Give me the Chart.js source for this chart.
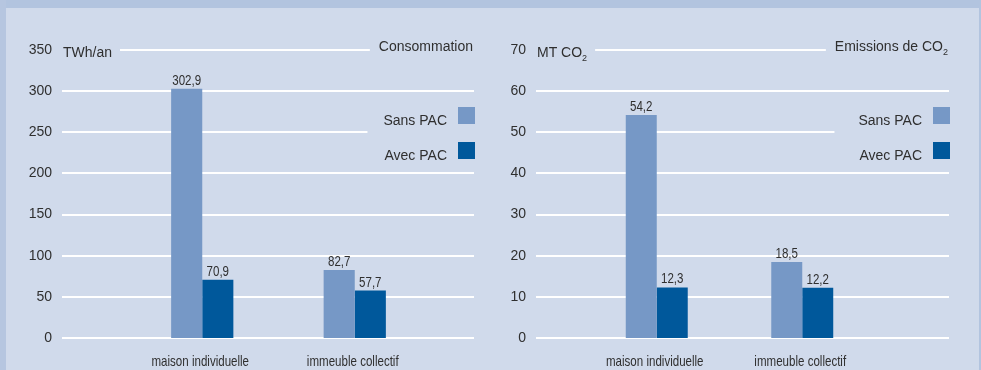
<!DOCTYPE html>
<html lang="fr">
<head>
    <meta charset="UTF-8">
    <title>Consommation et émissions de CO2</title>
    <script src="https://cdn.jsdelivr.net/npm/chart.js"></script>
    <style>
        body {
            margin: 0;
            background: #d0daeb;
        }

        .frame {
            position: relative;
            width: 981px;
            height: 370px;
            background: #d0daeb;
            overflow: hidden;
        }

        .band-top {
            position: absolute;
            left: 0;
            top: 0;
            width: 981px;
            height: 8px;
            background: #b2c4df;
        }

        .band-left {
            position: absolute;
            left: 0;
            top: 0;
            width: 6px;
            height: 370px;
            background: #b6c6e0;
        }

        .band-right {
            position: absolute;
            right: 0;
            top: 0;
            width: 2px;
            height: 370px;
            background: #b2c4df;
        }

        canvas {
            position: absolute;
            top: 0;
        }

        #conso { left: 0; }
        #co2 { left: 490px; }
    </style>
</head>
<body>
    <div class="frame">
        <div class="band-top"></div>
        <div class="band-left"></div>
        <div class="band-right"></div>
        <canvas id="conso" width="490" height="370"></canvas>
        <canvas id="co2" width="491" height="370"></canvas>
    </div>

    <script>
        const categories = ['maison individuelle', 'immeuble collectif'];
        const seriesNames = ['Sans PAC', 'Avec PAC'];
        const consoSans = [302.9, 82.7];
        const consoAvec = [70.9, 57.7];
        const co2Sans = [54.2, 18.5];
        const co2Avec = [12.3, 12.2];
        const consoTicks = [0, 50, 100, 150, 200, 250, 300, 350];
        const co2Ticks = [0, 10, 20, 30, 40, 50, 60, 70];

        const colorSans = '#7698c6';
        const colorAvec = '#00589b';
        const textColor = '#2f2f2f';
        const family = '"Liberation Sans", Arial, sans-serif';
        const narrow = 0.77;

        function fmt(v) {
            return v.toFixed(1).replace('.', ',');
        }

        // condensed text, like the original's narrow face
        function narrowText(ctx, text, x, y, align) {
            ctx.save();
            ctx.translate(x, y);
            ctx.scale(narrow, 1);
            ctx.textAlign = align;
            ctx.fillText(text, 0, 0);
            ctx.restore();
        }

        // text with a small subscript part (CO2)
        function subText(ctx, main, sub, x, y, align) {
            ctx.font = '14px ' + family;
            const w1 = ctx.measureText(main).width;
            ctx.font = '9px ' + family;
            const w2 = sub ? ctx.measureText(sub).width : 0;
            const start = align === 'right' ? x - w1 - w2 : x;
            ctx.textAlign = 'left';
            ctx.font = '14px ' + family;
            ctx.fillText(main, start, y);
            if (sub) {
                ctx.font = '9px ' + family;
                ctx.fillText(sub, start + w1, y + 4);
            }
            return { left: start, right: start + w1 + w2 };
        }

        const decor = {
            id: 'decor',
            beforeDatasetsDraw(chart, args, opts) {
                const ctx = chart.ctx;
                const y = chart.scales.y;
                const ticks = y.ticks.map(t => t.value);
                const top = ticks[ticks.length - 1];
                const legendLine = ticks[ticks.length - 3];

                ctx.save();
                ctx.fillStyle = textColor;
                ctx.textBaseline = 'alphabetic';
                const unit = subText(ctx, opts.unit, opts.unitSub, opts.gridFrom + 1, 57, 'left');
                const title = subText(ctx, opts.title, opts.titleSub, opts.gridTo - 1, 51, 'right');
                ctx.font = '14px ' + family;
                let legendLeft = opts.gridTo;
                seriesNames.forEach(n => {
                    legendLeft = Math.min(legendLeft, opts.gridTo - 28 - ctx.measureText(n).width);
                });

                ctx.strokeStyle = '#ffffff';
                ctx.lineWidth = 2;
                ticks.forEach(v => {
                    const py = Math.round(y.getPixelForValue(v));
                    let x0 = opts.gridFrom;
                    let x1 = opts.gridTo;
                    if (v === top) {
                        x0 = unit.right + 8;
                        x1 = title.left - 9;
                    } else if (v === legendLine) {
                        x1 = legendLeft - opts.legendGap;
                    }
                    ctx.beginPath();
                    ctx.moveTo(x0, py);
                    ctx.lineTo(x1, py);
                    ctx.stroke();
                });
                ctx.restore();
            },
            afterDatasetsDraw(chart, args, opts) {
                const ctx = chart.ctx;
                const x = chart.scales.x;
                ctx.save();
                ctx.fillStyle = textColor;
                ctx.font = '15px ' + family;
                ctx.textBaseline = 'alphabetic';

                // values above bars
                chart.data.datasets.forEach((ds, di) => {
                    chart.getDatasetMeta(di).data.forEach((bar, i) => {
                        narrowText(ctx, fmt(ds.data[i]), bar.x, bar.y - 4, 'center');
                    });
                });

                // category labels
                categories.forEach((c, i) => {
                    narrowText(ctx, c, x.getPixelForValue(i) - 2, 366, 'center');
                });

                // legend: text then square on the right
                ctx.font = '14px ' + family;
                chart.data.datasets.forEach((ds, di) => {
                    const boxTop = 107 + di * 35;
                    const boxRight = opts.gridTo + 1;
                    ctx.fillStyle = ds.backgroundColor;
                    ctx.fillRect(boxRight - 17, boxTop, 17, 17);
                    ctx.fillStyle = textColor;
                    ctx.textAlign = 'right';
                    ctx.fillText(ds.label, boxRight - 28, boxTop + 18);
                });
                ctx.restore();
            }
        };

        function makeChart(id, sans, avec, ticks, cfg) {
            return new Chart(document.getElementById(id), {
                type: 'bar',
                data: {
                    labels: categories,
                    datasets: [
                        {
                            label: seriesNames[0],
                            data: sans,
                            backgroundColor: colorSans,
                            categoryPercentage: cfg.catPct,
                            barPercentage: 1
                        },
                        {
                            label: seriesNames[1],
                            data: avec,
                            backgroundColor: colorAvec,
                            categoryPercentage: cfg.catPct,
                            barPercentage: 1
                        }
                    ]
                },
                options: {
                    responsive: false,
                    animation: false,
                    layout: {
                        padding: { left: 0, right: cfg.padRight, top: 50, bottom: 32 }
                    },
                    scales: {
                        x: {
                            display: false,
                            offset: true
                        },
                        y: {
                            min: 0,
                            max: ticks[ticks.length - 1],
                            afterFit(scale) {
                                scale.width = cfg.areaLeft;
                            },
                            afterBuildTicks(scale) {
                                scale.ticks = ticks.map(v => ({ value: v }));
                            },
                            border: { display: false },
                            // tick marks are hidden; their length only pushes the labels left
                            grid: { display: false, drawTicks: true, tickLength: cfg.tickPad - 4 },
                            ticks: {
                                padding: 4,
                                color: textColor,
                                font: { family: family, size: 14 }
                            }
                        }
                    },
                    plugins: {
                        legend: { display: false },
                        tooltip: { enabled: false },
                        decor: cfg.decor
                    }
                },
                plugins: [decor]
            });
        }

        makeChart('conso', consoSans, consoAvec, consoTicks, {
            catPct: 0.408,
            padRight: 59,
            areaLeft: 126,
            tickPad: 74,
            decor: {
                gridFrom: 62, gridTo: 474,
                unit: 'TWh/an', unitSub: '',
                title: 'Consommation', titleSub: '',
                legendGap: 15
            }
        });

        makeChart('co2', co2Sans, co2Avec, co2Ticks, {
            catPct: 0.426,
            padRight: 106,
            areaLeft: 94,
            tickPad: 58,
            decor: {
                gridFrom: 46, gridTo: 459,
                unit: 'MT CO', unitSub: '2',
                title: 'Emissions de CO', titleSub: '2',
                legendGap: 23
            }
        });
    </script>
</body>
</html>
